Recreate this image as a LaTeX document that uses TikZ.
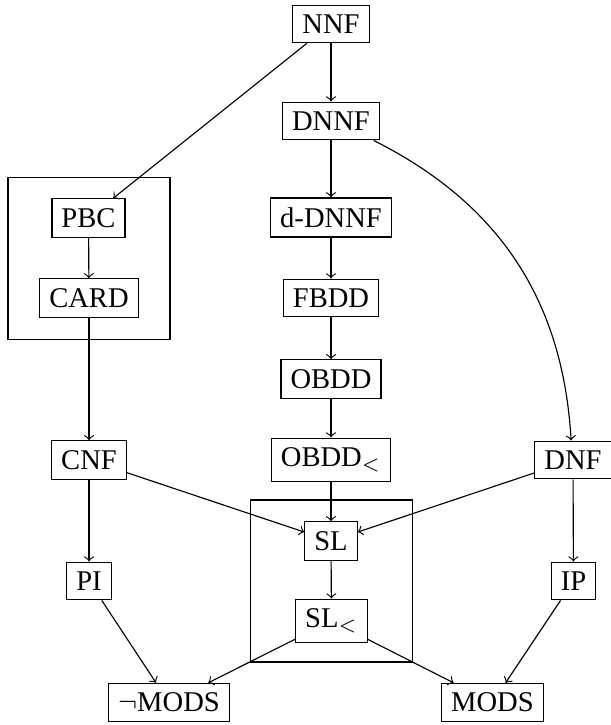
\documentclass[tikz,border=0pt]{standalone}
\usepackage{fontspec}
\setmainfont{Liberation Serif}
\begin{document}
\begin{tikzpicture}[x=0.35pt,y=0.35pt,
  box/.style={draw,inner sep=3.33pt,font=\fontsize{10}{12}\selectfont},
  grp/.style={draw,minimum size=56.7pt,inner sep=0pt},
  arr/.style={->}]
\useasboundingbox (0,0) rectangle (610,725);
% group boxes
\node[grp] (g1) at (89,466.5) {};
\node[grp] (g2) at (331.5,144) {};
% nodes
\node[box] (NNF) at (331,701) {NNF};
\node[box] (DNNF) at (331,604) {DNNF};
\node[box] (PBC) at (88.5,507) {PBC};
\node[box] (CARD) at (89,427) {CARD};
\node[box] (dDNNF) at (331,507.5) {d-DNNF};
\node[box] (FBDD) at (331,427) {FBDD};
\node[box] (OBDD) at (331,346) {OBDD};
\node[box] (OBDDl) at (331,265) {OBDD$_<$};
\node[box] (CNF) at (89,265) {CNF};
\node[box] (DNF) at (573,265) {DNF};
\node[box] (SL) at (331,184) {SL};
\node[box] (SLl) at (331.5,104) {SL$_<$};
\node[box] (PI) at (89,144) {PI};
\node[box] (IP) at (573.5,144) {IP};
\node[box] (nMODS) at (169,22.5) {$\neg$MODS};
\node[box] (MODS) at (492.5,22.5) {MODS};
% edges
\draw[arr] (NNF) -- (DNNF);
\draw[arr] (NNF) -- (PBC);
\draw[arr] (PBC) -- (CARD);
\draw[arr] (CARD) -- (CNF);
\draw[arr] (DNNF) -- (dDNNF);
\draw[arr] (dDNNF) -- (FBDD);
\draw[arr] (FBDD) -- (OBDD);
\draw[arr] (OBDD) -- (OBDDl);
\draw[arr] (OBDDl) -- (SL);
\draw[arr] (DNNF) to[bend left=30] (DNF);
\draw[arr] (CNF) -- (SL);
\draw[arr] (DNF) -- (SL);
\draw[arr] (SL) -- (SLl);
\draw[arr] (CNF) -- (PI);
\draw[arr] (DNF) -- (IP);
\draw[arr] (PI) -- (nMODS);
\draw[arr] (SLl) -- (nMODS);
\draw[arr] (SLl) -- (MODS);
\draw[arr] (IP) -- (MODS);
\end{tikzpicture}
\end{document}
